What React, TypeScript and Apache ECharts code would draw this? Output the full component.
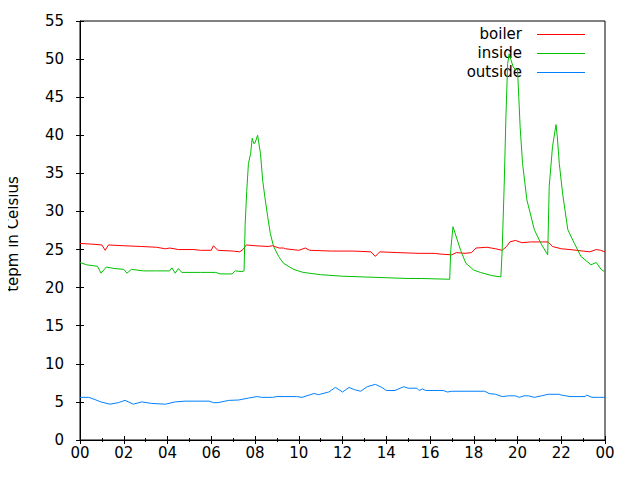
import React, { useEffect, useRef } from "react";
import * as echarts from "echarts";

const seriesNames = ["boiler", "inside", "outside"];
const seriesColors = ["#ff0000", "#00c000", "#0080ff"];

// hour of day, value (°C)
const boiler: [number, number][] = [
  [0, 25.8], [0.6, 25.7], [1.0, 25.6], [1.15, 24.9], [1.3, 25.6], [2.0, 25.5], [2.8, 25.4],
  [3.5, 25.3], [3.9, 25.1], [4.1, 25.2], [4.5, 25.0], [5.2, 25.0], [5.5, 24.9], [6.0, 24.9],
  [6.1, 25.5], [6.3, 24.9], [7.0, 24.8], [7.3, 24.7], [7.45, 25.0], [7.6, 25.6], [8.0, 25.5],
  [8.6, 25.4], [8.8, 25.5], [9.1, 25.2], [9.3, 25.2], [9.4, 25.1], [10.0, 24.9], [10.3, 25.2],
  [10.5, 24.9], [11.5, 24.8], [12.5, 24.8], [13.3, 24.7], [13.5, 24.1], [13.7, 24.7],
  [14.5, 24.6], [15.5, 24.5], [16.2, 24.5], [16.5, 24.4], [17.0, 24.3], [17.2, 24.6],
  [17.6, 24.5], [17.9, 24.6], [18.1, 25.2], [18.6, 25.3], [19.0, 25.1], [19.3, 24.9],
  [19.5, 25.4], [19.65, 26.0], [19.9, 26.2], [20.2, 25.9], [20.6, 26.0], [21.0, 26.0],
  [21.4, 26.0], [21.6, 25.4], [22.0, 25.1], [22.4, 25.0], [23.0, 24.8], [23.3, 24.7],
  [23.6, 25.0], [23.8, 24.9], [24.0, 24.7],
];

const inside: [number, number][] = [
  [0, 23.3], [0.3, 23.0], [0.8, 22.8], [0.96, 21.9], [1.2, 22.7], [1.6, 22.5], [2.0, 22.4],
  [2.15, 21.9], [2.35, 22.4], [2.9, 22.2], [3.5, 22.2], [4.1, 22.2], [4.2, 22.6], [4.35, 21.9],
  [4.5, 22.5], [4.65, 22.0], [5.5, 22.0], [6.2, 22.0], [6.4, 21.8], [6.95, 21.8], [7.1, 22.2],
  [7.4, 22.1], [7.5, 22.2], [7.55, 28.3], [7.62, 32.6], [7.7, 36.3], [7.8, 37.6], [7.87, 39.6],
  [7.95, 38.9], [8.0, 39.0], [8.12, 40.0], [8.25, 37.6], [8.35, 34.1], [8.45, 31.9],
  [8.58, 29.3], [8.7, 27.1], [8.85, 25.4], [9.08, 24.1], [9.3, 23.2], [9.76, 22.4],
  [10.2, 22.0], [11.0, 21.7], [12.0, 21.5], [13.0, 21.4], [14.0, 21.3], [15.0, 21.2],
  [15.6, 21.2], [16.9, 21.1], [16.95, 25.0], [17.05, 28.0], [17.4, 24.9], [17.64, 23.2],
  [18.0, 22.3], [18.3, 22.0], [18.8, 21.6], [19.24, 21.4], [19.3, 25.0], [19.39, 33.3],
  [19.47, 42.4], [19.55, 49.4], [19.62, 50.7], [19.7, 49.9], [19.8, 49.0], [19.9, 48.6],
  [20.0, 48.7], [20.12, 41.1], [20.23, 36.3], [20.43, 31.5], [20.77, 27.6], [21.07, 25.8],
  [21.38, 24.3], [21.45, 33.3], [21.6, 38.5], [21.76, 41.4], [21.82, 39.8], [21.91, 36.3],
  [22.06, 32.4], [22.3, 27.6], [22.6, 25.8], [22.9, 24.1], [23.36, 23.0], [23.6, 23.3],
  [23.82, 22.4], [23.97, 22.1],
];

const outside: [number, number][] = [
  [0, 5.6], [0.4, 5.6], [0.69, 5.3], [0.95, 5.0], [1.37, 4.7], [1.75, 4.9], [2.06, 5.2],
  [2.44, 4.7], [2.82, 5.0], [3.28, 4.8], [3.9, 4.7], [4.35, 5.0], [4.8, 5.1], [5.9, 5.1],
  [6.1, 4.9], [6.3, 4.9], [6.8, 5.2], [7.25, 5.25], [7.7, 5.5], [8.1, 5.7], [8.3, 5.6],
  [8.8, 5.6], [9.0, 5.7], [9.9, 5.7], [10.15, 5.6], [10.7, 6.1], [10.9, 5.95], [11.37, 6.3],
  [11.68, 6.9], [12.0, 6.3], [12.3, 6.9], [12.55, 6.6], [12.83, 6.4], [13.13, 7.0],
  [13.5, 7.3], [13.8, 6.9], [14.0, 6.5], [14.4, 6.5], [14.8, 7.0], [15.0, 6.8], [15.4, 6.8],
  [15.5, 6.5], [15.65, 6.7], [15.8, 6.5], [16.6, 6.5], [16.8, 6.3], [17.0, 6.4], [18.5, 6.4],
  [18.7, 6.1], [19.0, 6.0], [19.3, 5.7], [19.6, 5.8], [19.9, 5.8], [20.08, 5.6], [20.3, 5.8],
  [20.5, 5.8], [20.77, 5.6], [21.1, 5.8], [21.4, 6.0], [21.9, 6.0], [22.0, 5.9], [22.4, 5.7],
  [23.1, 5.7], [23.15, 5.9], [23.4, 5.6], [23.7, 5.6], [24.0, 5.6],
];

const seriesData = [boiler, inside, outside];
const yAxisTitle = "tepm in Celsius";

const FONT = "DejaVu Sans";

export default function App() {
  const ref = useRef<HTMLDivElement>(null);
  useEffect(() => {
    if (!ref.current) return;
    const chart = echarts.init(ref.current, null, { renderer: "svg" });
    const hourLabel = (v: number) => String(Math.round(v) % 24).padStart(2, "0");
    const tickCommon = { inside: true, length: 4, lineStyle: { color: "#000" } };
    const minorCommon = { show: true, splitNumber: 2, length: 2, lineStyle: { color: "#000" } };

    const legendTop = 34;
    const legendStep = 19;
    const legendGraphics: any[] = [];
    seriesNames.forEach((name, i) => {
      const y = legendTop + i * legendStep;
      legendGraphics.push({
        type: "text",
        x: 522,
        y,
        style: {
          text: name,
          font: `15px "${FONT}"`,
          fill: "#000",
          align: "right",
          verticalAlign: "middle",
        },
      });
      legendGraphics.push({
        type: "line",
        shape: { x1: 537, y1: y + 0.5, x2: 585, y2: y + 0.5 },
        style: { stroke: seriesColors[i], lineWidth: 1 },
      });
    });

    chart.setOption({
      animation: false,
      backgroundColor: "#fff",
      textStyle: { fontFamily: FONT },
      grid: {
        left: 80, top: 21, width: 525, height: 419,
        show: true, borderColor: "#000", borderWidth: 1, backgroundColor: "transparent",
      },
      xAxis: [
        {
          type: "value", min: 0, max: 24, interval: 2, position: "bottom",
          axisLine: { show: true, lineStyle: { color: "#000" } },
          axisTick: tickCommon,
          minorTick: minorCommon,
          splitLine: { show: false },
          axisLabel: { formatter: hourLabel, fontFamily: FONT, fontSize: 15, color: "#000", margin: 5 },
        },
        {
          type: "value", min: 0, max: 24, interval: 2, position: "top",
          axisLine: { show: false },
          axisTick: tickCommon,
          minorTick: minorCommon,
          splitLine: { show: false },
          axisLabel: { show: false },
        },
      ],
      yAxis: [
        {
          type: "value", min: 0, max: 55, interval: 5, position: "left",
          axisLine: { show: true, lineStyle: { color: "#000" } },
          axisTick: tickCommon,
          splitLine: { show: false },
          axisLabel: { fontFamily: FONT, fontSize: 15, color: "#000", margin: 16 },
        },
        {
          type: "value", min: 0, max: 55, interval: 5, position: "right",
          axisLine: { show: false },
          axisTick: tickCommon,
          splitLine: { show: false },
          axisLabel: { show: false },
        },
      ],
      graphic: [
        {
          type: "text",
          x: 13, y: 234,
          rotation: Math.PI / 2,
          style: {
            text: yAxisTitle,
            font: `15px "${FONT}"`,
            fill: "#000",
            align: "center",
            verticalAlign: "middle",
          },
        },
        ...legendGraphics,
      ],
      series: seriesNames.map((name, i) => ({
        name,
        type: "line",
        data: seriesData[i],
        xAxisIndex: 0,
        yAxisIndex: 0,
        showSymbol: false,
        symbol: "none",
        color: seriesColors[i],
        lineStyle: { width: 1, color: seriesColors[i] },
      })),
    });
    return () => chart.dispose();
  }, []);
  return <div ref={ref} style={{ width: 640, height: 480, margin: -8 }} />;
}
